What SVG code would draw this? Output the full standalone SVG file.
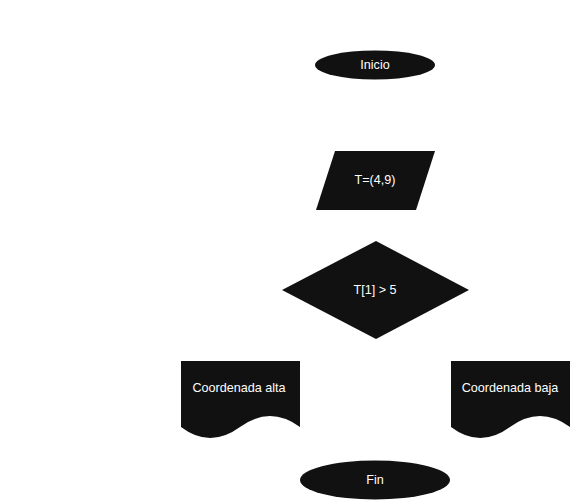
<svg xmlns="http://www.w3.org/2000/svg" width="571" height="501" viewBox="0 0 571 501">
<style>
.s{fill:#111111;stroke:none}
.t{fill:#ffffff;font-family:"Liberation Sans",Arial,sans-serif;font-size:12.6px;text-anchor:middle;dominant-baseline:central}
</style>
<rect width="571" height="501" fill="#ffffff"/>
<g id="connectors"></g>
<g id="inicio"><ellipse class="s" cx="375" cy="65" rx="60" ry="14.5"/><text class="t" x="375" y="64.5">Inicio</text></g>
<g id="entrada"><polygon class="s" points="335,151 435,151 416,210 316,210"/><text class="t" x="375" y="179.5">T=(4,9)</text></g>
<g id="decision"><polygon class="s" points="376,241 469,290 376,339 282,290"/><text class="t" x="375" y="289.5">T[1] &gt; 5</text></g>
<g id="alta"><path class="s" d="M181,361 H300 V427 Q270,405 240,427 Q210,449 181,427 Z"/><text class="t" x="239" y="387.5">Coordenada alta</text></g>
<g id="baja"><path class="s" d="M451,361 H570 V427 Q540,405 510,427 Q480,449 451,427 Z"/><text class="t" x="510" y="387.5">Coordenada baja</text></g>
<g id="fin"><ellipse class="s" cx="375" cy="480" rx="75" ry="19.5"/><text class="t" x="375" y="479.5">Fin</text></g>
</svg>
